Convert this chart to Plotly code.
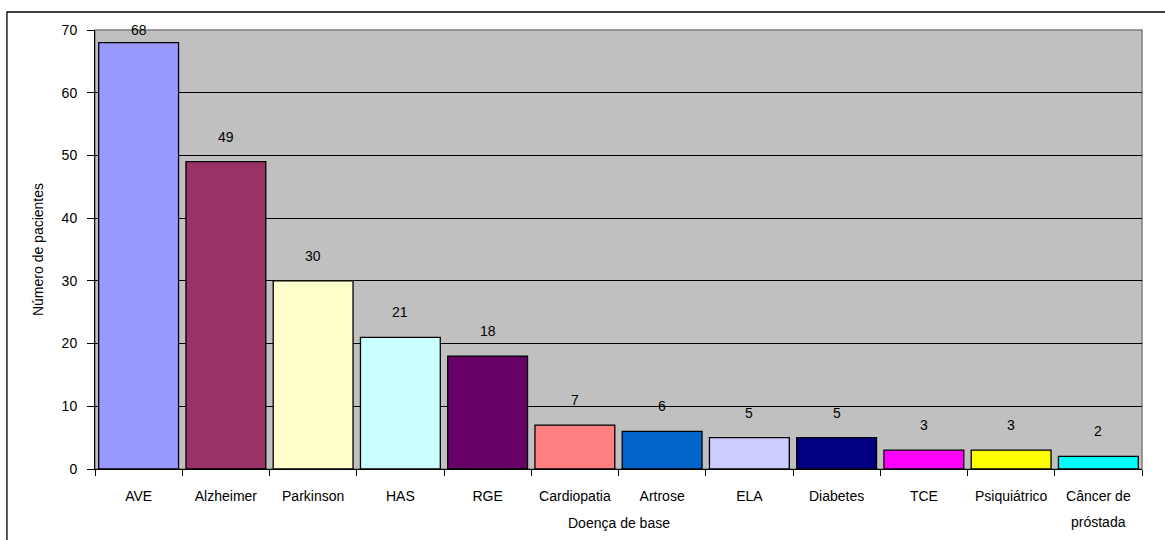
import plotly.graph_objects as go

categories = ["AVE", "Alzheimer", "Parkinson", "HAS", "RGE", "Cardiopatia", "Artrose",
              "ELA", "Diabetes", "TCE", "Psiquiátrico", "Câncer de próstada"]
tick_labels = ["AVE", "Alzheimer", "Parkinson", "HAS", "RGE", "Cardiopatia", "Artrose",
               "ELA", "Diabetes", "TCE", "Psiquiátrico", "Câncer de"]
values = [68, 49, 30, 21, 18, 7, 6, 5, 5, 3, 3, 2]
colors = ["#9999FF", "#993366", "#FFFFCC", "#CCFFFF", "#660066", "#FF8080", "#0066CC",
          "#CCCCFF", "#000080", "#FF00FF", "#FFFF00", "#00FFFF"]
y_ticks = [0, 10, 20, 30, 40, 50, 60, 70]

FONT = "Liberation Sans, Arial, sans-serif"
FS = 14

fig = go.Figure()
fig.add_trace(go.Bar(
    x=categories, y=values,
    marker=dict(color=colors, line=dict(color="#000000", width=1.3)),
    hoverinfo="x+y",
))

annotations = []
for c, v in zip(categories, values):
    if v >= 66:
        annotations.append(dict(x=c, y=70, text=str(v), showarrow=False, yanchor="middle",
                                xref="x", yref="y", font=dict(size=FS, color="#000", family=FONT)))
    else:
        annotations.append(dict(x=c, y=v, text=str(v), showarrow=False, yanchor="middle",
                                yshift=25, xref="x", yref="y",
                                font=dict(size=FS, color="#000", family=FONT)))
# second line of the last category label
annotations.append(dict(x=categories[-1], y=-0.121, xref="x", yref="paper", text="próstada",
                        showarrow=False, yanchor="middle",
                        font=dict(size=FS, color="#000", family=FONT)))
# x-axis title
annotations.append(dict(x=0.5, y=-0.123, xref="paper", yref="paper", text="Doença de base",
                        showarrow=False, yanchor="middle",
                        font=dict(size=FS, color="#000", family=FONT)))

fig.update_layout(
    width=1165, height=540,
    margin=dict(l=95, r=23, t=30, b=71),
    paper_bgcolor="#FFFFFF",
    plot_bgcolor="#C0C0C0",
    bargap=0.085,
    showlegend=False,
    font=dict(family=FONT, size=FS, color="#000000"),
    annotations=annotations,
    shapes=[
        dict(type="rect", xref="paper", yref="paper", x0=-0.0841, x1=1.08, y0=-0.25, y1=1.041,
             line=dict(color="#000000", width=1.3), fillcolor="rgba(0,0,0,0)", layer="below"),
        dict(type="rect", xref="paper", yref="paper", x0=0, x1=1, y0=0, y1=1,
             line=dict(color="#808080", width=1.5), fillcolor="rgba(0,0,0,0)", layer="below"),
    ],
)

fig.update_xaxes(
    type="category",
    tickmode="array", tickvals=categories, ticktext=tick_labels,
    showline=True, linecolor="#000000", linewidth=1,
    ticks="outside", tickson="boundaries", ticklen=6, tickcolor="#000000",
    showgrid=False,
    tickfont=dict(size=FS, family=FONT),
    ticklabelstandoff=14,
)
fig.update_yaxes(
    range=[0, 70],
    tickvals=y_ticks,
    showline=True, linecolor="#000000", linewidth=1,
    ticks="outside", ticklen=7, tickcolor="#000000",
    showgrid=True, gridcolor="#000000", gridwidth=1,
    zeroline=False,
    tickfont=dict(size=FS, family=FONT),
    ticklabelstandoff=7,
    title=dict(text="Número de pacientes", font=dict(size=FS, family=FONT), standoff=14),
)

fig.write_html("out.html")
